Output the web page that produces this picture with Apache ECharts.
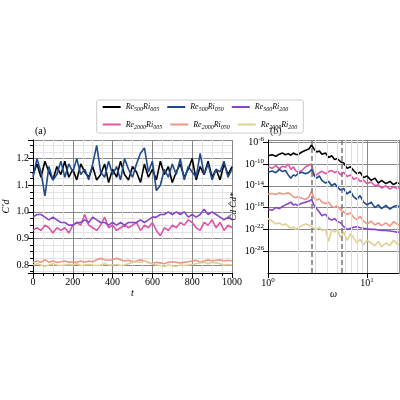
<!DOCTYPE html>
<html><head><meta charset="utf-8">
<script src="https://cdn.jsdelivr.net/npm/echarts@6/dist/echarts.min.js"></script>
<style>html,body{margin:0;padding:0;background:#fff}#c{width:400px;height:400px}</style>
</head><body><div id="c"></div>
<script>
const names = [['500','005'],['2000','005'],['500','050'],['2000','050'],['500','200'],['2000','200']];
const colors = ['#000000','#dd55aa','#1f4a8c','#f09585','#8a45cc','#e0d095'];
const tStep = 20;
const cdBlack = [1.14,1.18,1.13,1.19,1.15,1.12,1.17,1.14,1.19,1.13,1.16,1.12,1.18,1.15,1.13,1.17,1.12,1.14,1.18,1.11,1.16,1.13,1.19,1.14,1.12,1.17,1.15,1.11,1.18,1.13,1.16,1.12,1.19,1.14,1.17,1.11,1.15,1.18,1.13,1.16,1.20,1.12,1.17,1.14,1.19,1.13,1.16,1.12,1.18,1.14,1.17];
const cdPink = [0.93,0.94,0.93,0.95,0.94,0.92,0.94,0.93,0.94,0.92,0.95,0.96,0.95,0.99,0.95,0.94,0.93,0.95,0.98,0.94,0.95,0.93,0.94,0.95,0.94,0.95,0.96,0.93,0.95,0.94,0.96,0.93,0.91,0.94,0.93,0.95,0.94,0.96,0.95,0.97,0.96,0.94,0.93,0.96,0.95,0.97,0.94,0.96,0.93,0.95,0.94];
const cdBlue = [1.13,1.20,1.15,1.06,1.17,1.12,1.14,1.19,1.13,1.18,1.15,1.20,1.14,1.16,1.12,1.18,1.25,1.15,1.13,1.19,1.14,1.17,1.12,1.20,1.16,1.13,1.18,1.22,1.24,1.15,1.19,1.08,1.10,1.16,1.13,1.18,1.14,1.20,1.12,1.17,1.15,1.13,1.22,1.14,1.18,1.12,1.16,1.15,1.19,1.13,1.16];
const cdSalmon = [0.81,0.815,0.81,0.82,0.81,0.815,0.81,0.812,0.815,0.81,0.812,0.81,0.815,0.81,0.815,0.812,0.82,0.825,0.82,0.818,0.82,0.825,0.82,0.815,0.818,0.812,0.815,0.82,0.815,0.81,0.805,0.81,0.808,0.805,0.81,0.812,0.81,0.808,0.81,0.812,0.815,0.818,0.81,0.815,0.82,0.815,0.818,0.82,0.815,0.818,0.815];
const cdPurple = [0.98,0.99,0.99,0.98,0.97,0.98,0.97,0.96,0.96,0.95,0.95,0.96,0.96,0.97,0.96,0.98,0.97,0.96,0.96,0.95,0.96,0.95,0.96,0.95,0.96,0.96,0.96,0.97,0.96,0.97,0.98,0.98,0.99,0.99,1.00,0.99,1.00,0.99,1.00,0.98,0.99,0.98,0.99,1.01,0.99,1.00,0.99,0.98,0.97,0.98,0.97];
const cdTan = [0.80,0.805,0.8,0.795,0.8,0.805,0.8,0.798,0.8,0.802,0.8,0.805,0.798,0.8,0.802,0.8,0.798,0.8,0.805,0.8,0.8,0.802,0.798,0.8,0.805,0.81,0.812,0.81,0.815,0.808,0.805,0.8,0.798,0.795,0.8,0.797,0.795,0.8,0.798,0.8,0.802,0.805,0.808,0.81,0.805,0.81,0.808,0.805,0.8,0.802,0.8];
const omega = [1,1.1,1.2,1.3,1.4,1.5,1.6,1.7,1.8,1.9,2,2.2,2.4,2.6,2.75,2.9,3.1,3.3,3.5,3.8,4.1,4.4,4.7,5,5.4,5.8,6.3,6.8,7.3,7.9,8.5,9.2,10,11,12,13,14,15.5,17,18.5,20,21];
const psdBlack = [-8.5,-8.3,-8.6,-8.2,-8.0,-8.3,-8.1,-8.4,-8.0,-8.2,-8.3,-7.8,-7.5,-7.2,-6.5,-7.2,-7.8,-7.6,-8.2,-8.0,-8.8,-8.5,-9.2,-9.0,-9.6,-9.8,-10.8,-10.5,-11.2,-11.8,-11.5,-12.5,-12.2,-13.0,-12.6,-13.5,-13.0,-13.6,-13.2,-13.8,-13.4,-13.6];
const psdPink = [-10.5,-10.8,-10.3,-10.9,-10.4,-10.6,-10.0,-11.0,-10.5,-11.2,-11.5,-11.2,-10.5,-10.2,-10.0,-11.8,-12.0,-11.6,-11.3,-11.8,-11.4,-11.2,-11.6,-11.3,-12.0,-11.5,-12.3,-12.0,-12.8,-12.5,-13.2,-13.0,-13.6,-13.3,-14.0,-13.8,-14.4,-14.0,-14.6,-14.2,-14.5,-14.3];
const psdBlue = [-11.5,-11.3,-11.6,-11.0,-11.4,-11.2,-12.0,-12.6,-12.0,-12.2,-11.8,-11.5,-11.8,-11.5,-11.0,-12.0,-12.6,-12.2,-13.0,-13.5,-13.2,-14.0,-13.6,-14.2,-14.8,-14.5,-15.5,-15.0,-16.0,-16.5,-15.8,-17.0,-17.5,-17.0,-18.0,-17.5,-18.2,-17.6,-18.3,-17.8,-17.6,-17.8];
const psdSalmon = [-15.5,-15.4,-15.6,-15.3,-15.5,-15.4,-15.3,-15.6,-16.0,-16.2,-16.0,-16.3,-16.5,-16.0,-15.0,-16.2,-16.6,-16.4,-17.0,-17.3,-17.0,-17.8,-18.0,-17.6,-18.4,-18.8,-19.2,-19.0,-19.8,-20.2,-19.6,-20.5,-21.0,-20.5,-21.2,-20.8,-21.3,-20.8,-21.4,-20.6,-21.0,-21.2];
const psdPurple = [-18.3,-18.5,-18.0,-18.2,-17.8,-17.5,-17.3,-17.0,-17.5,-17.4,-17.6,-17.2,-17.0,-16.8,-16.5,-17.5,-18.2,-18.8,-19.5,-19.2,-20.0,-20.3,-20.0,-20.5,-20.8,-21.5,-22.0,-21.8,-21.6,-21.5,-21.7,-21.8,-21.9,-22.0,-22.0,-22.1,-22.2,-22.2,-22.3,-22.4,-22.5,-22.5];
const psdTan = [-20.0,-20.5,-21.0,-20.8,-21.2,-21.0,-21.4,-21.8,-21.5,-22.0,-21.8,-21.3,-21.0,-21.2,-21.5,-21.8,-22.0,-21.6,-22.2,-22.0,-24.2,-22.0,-22.5,-22.0,-23.5,-22.5,-24.0,-22.8,-23.5,-24.5,-23.8,-24.8,-24.0,-24.5,-25.0,-24.2,-25.2,-24.5,-25.0,-24.0,-24.6,-24.8];
const dashedOmega = [2.75, 5.5];
const minorOmega = [2,3,4,5,6,7,8,9,20];

const cdSets = [cdBlack, cdPink, cdBlue, cdSalmon, cdPurple, cdTan];
const psdSets = [psdBlack, psdPink, psdBlue, psdSalmon, psdPurple, psdTan];
const FONT = 'Liberation Serif';
const labelNames = names.map(n => 'Re{s|' + n[0] + '}Ri{s|' + n[1] + '}');
const series = [];
cdSets.forEach((d, i) => series.push({
  name: labelNames[i], type: 'line', xAxisIndex: 0, yAxisIndex: 0, showSymbol: false,
  lineStyle: { width: 1.6, color: colors[i] }, itemStyle: { color: colors[i] },
  data: d.map((v, k) => [k * tStep, v])
}));
psdSets.forEach((d, i) => series.push({
  name: labelNames[i], type: 'line', xAxisIndex: 1, yAxisIndex: 1, showSymbol: false,
  lineStyle: { width: 1.6, color: colors[i] }, itemStyle: { color: colors[i] },
  data: d.map((v, k) => [omega[k], v]),
  markLine: i === 0 ? { silent: true, symbol: 'none', label: { show: false },
    data: minorOmega.map(x => ({ xAxis: x, lineStyle: { color: '#dddddd', width: 1, type: 'solid' } }))
      .concat(dashedOmega.map(x => ({ xAxis: x, lineStyle: { color: '#777', width: 1.5, type: [5, 3] } }))) } : undefined
}));
const rich = { s: { fontSize: 6, fontFamily: FONT, fontStyle: 'italic', color: '#000', padding: [5, 0, 0, 0] } };
const supRich = { b: { fontSize: 10, fontFamily: FONT, color: '#000' }, s: { fontSize: 7, fontFamily: FONT, color: '#000', padding: [0, 0, 6, 0] } };
const chart = echarts.init(document.getElementById('c'));
chart.setOption({
  animation: false,
  legend: {
    top: 100, left: 'center', itemWidth: 18, itemHeight: 2, itemGap: 8, width: 240,
    orient: 'horizontal', borderColor: '#ccc', borderWidth: 1, borderRadius: 2, padding: [3, 6],
    icon: 'rect',
    data: [0, 2, 4, 1, 3, 5].map(i => labelNames[i]),
    textStyle: { fontFamily: FONT, fontStyle: 'italic', fontSize: 8, color: '#000', rich, width: 52 }
  },
  grid: [
    { left: 33, top: 140, width: 199, height: 133 },
    { left: 268, top: 140, width: 131, height: 133 }
  ],
  xAxis: [
    { type: 'value', gridIndex: 0, min: 0, max: 1000, interval: 200,
      name: 't', nameLocation: 'middle', nameGap: 14, nameTextStyle: { fontFamily: FONT, fontStyle: 'italic', fontSize: 10 },
      axisLine: { lineStyle: { color: '#000' } }, axisTick: { show: true, lineStyle: { color: '#000' } },
      minorTick: { show: true, splitNumber: 4 },
      axisLabel: { fontFamily: FONT, fontSize: 10, color: '#000', margin: 4, formatter: v => String(v) },
      splitLine: { show: true, lineStyle: { color: '#888', width: 1 } },
      minorSplitLine: { show: true, lineStyle: { color: '#e4e4e4', width: 1 } } },
    { type: 'log', gridIndex: 1, min: 1, max: 21, logBase: 10,
      name: 'ω', nameLocation: 'middle', nameGap: 14, nameTextStyle: { fontFamily: FONT, fontStyle: 'italic', fontSize: 10 },
      axisLine: { lineStyle: { color: '#000' } }, axisTick: { show: true, lineStyle: { color: '#000' } },
      axisLabel: { fontFamily: FONT, fontSize: 10, color: '#000', margin: 4, showMaxLabel: false,
        formatter: v => { const e = Math.round(Math.log10(v)); return Math.abs(Math.log10(v) - e) < 1e-6 ? '{b|10}{s|' + e + '}' : ''; }, rich: supRich },
      splitLine: { show: true, lineStyle: { color: '#888', width: 1 } } }
  ],
  yAxis: [
    { type: 'value', gridIndex: 0, min: 0.77, max: 1.27, splitNumber: 5,
      name: "C'd", nameLocation: 'middle', nameGap: 22, nameRotate: 90,
      nameTextStyle: { fontFamily: FONT, fontStyle: 'italic', fontSize: 10 },
      axisLine: { show: true, lineStyle: { color: '#000' } }, axisTick: { show: true, lineStyle: { color: '#000' } },
      minorTick: { show: true, splitNumber: 4 },
      axisLabel: { fontFamily: FONT, fontSize: 10, color: '#000', margin: 4, showMinLabel: false, showMaxLabel: false,
        formatter: v => v.toFixed(1) },
      splitLine: { show: true, lineStyle: { color: '#888', width: 1 } },
      minorSplitLine: { show: true, lineStyle: { color: '#e4e4e4', width: 1 } } },
    { type: 'value', gridIndex: 1, min: -30, max: -5.6, interval: 4,
      name: 'Ĉd Ĉd*', nameLocation: 'middle', nameGap: 30, nameRotate: 90,
      nameTextStyle: { fontFamily: FONT, fontStyle: 'italic', fontSize: 9 },
      axisLine: { show: true, lineStyle: { color: '#000' } }, axisTick: { show: true, lineStyle: { color: '#000' } },
      axisLabel: { fontFamily: FONT, fontSize: 10, color: '#000', margin: 4, showMinLabel: false, showMaxLabel: false,
        formatter: v => '{b|10}{s|' + v + '}', rich: supRich },
      splitLine: { show: true, lineStyle: { color: '#888', width: 1 } } }
  ],
  graphic: [
    { type: 'text', left: 35, top: 126, style: { text: '(a)', font: '10px "Liberation Serif"', fill: '#000' } },
    { type: 'text', left: 270, top: 126, style: { text: '(b)', font: '10px "Liberation Serif"', fill: '#000' } }
  ],
  series
});
</script></body></html>
